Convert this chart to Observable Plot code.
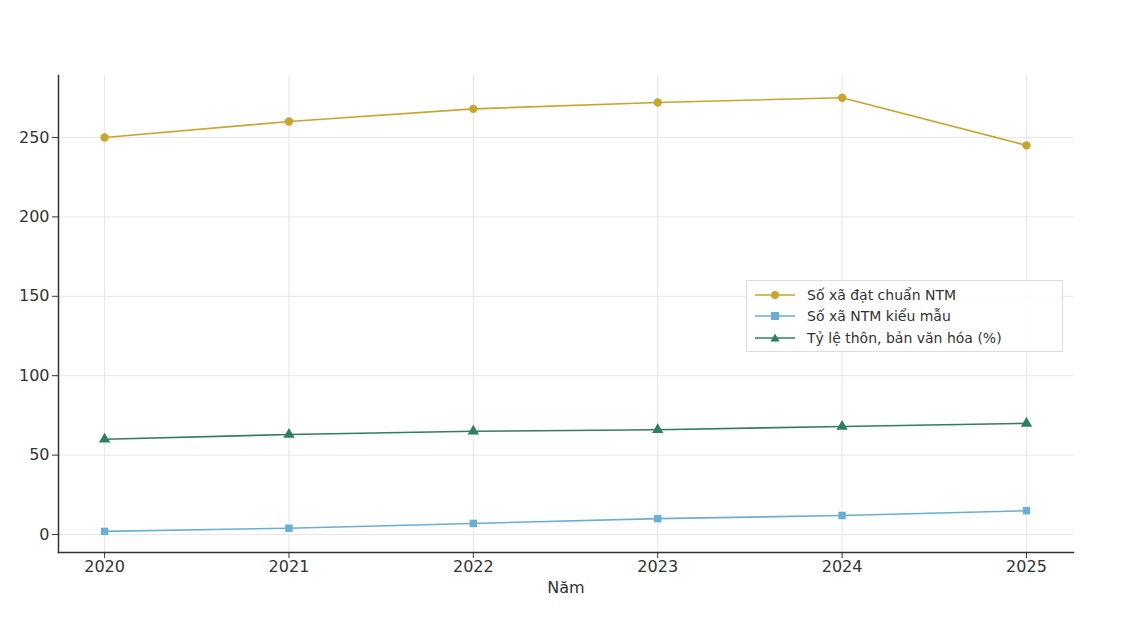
<!DOCTYPE html>
<html><head><meta charset="utf-8">
<script src="https://cdn.jsdelivr.net/npm/d3@7"></script>
<script src="https://cdn.jsdelivr.net/npm/@observablehq/plot@0.6"></script>
<style>
body{margin:0;background:#fff;font-family:"DejaVu Sans",sans-serif;}
#wrap{position:relative;width:1139px;height:622px;}
#legend{position:absolute;left:746px;top:280px;width:317px;height:72px;border:1px solid #ddd;background:rgba(255,255,255,0.9);box-sizing:border-box;padding:3px 8px;font-size:14px;color:#333;}
#legend div{display:flex;align-items:center;height:21.5px;}
#legend svg{margin-right:12px;}
</style></head>
<body><div id="wrap"></div>
<script>
const years = [2020, 2021, 2022, 2023, 2024, 2025];
const seriesNames = ["Số xã đạt chuẩn NTM", "Số xã NTM kiểu mẫu", "Tỷ lệ thôn, bản văn hóa (%)"];
const xaDatChuan = [250, 260, 268, 272, 275, 245];
const xaKieuMau = [2, 4, 7, 10, 12, 15];
const tyLeThon = [60, 63, 65, 66, 68, 70];
const colors = ["#c8a62c", "#6aaed6", "#2f7f5f"];
const symbols = ["circle", "square", "triangle"];
const yTicks = [0, 50, 100, 150, 200, 250];

const valuesList = [xaDatChuan, xaKieuMau, tyLeThon];
const data = [];
seriesNames.forEach((s, i) => years.forEach((y, j) => data.push({year: y, value: valuesList[i][j], series: s})));

const chart = Plot.plot({
  width: 1139, height: 622,
  marginLeft: 58, marginRight: 66, marginTop: 75, marginBottom: 70,
  style: {fontFamily: "DejaVu Sans", fontSize: "16px", color: "#333", background: "#fff"},
  x: {domain: [2019.75, 2025.255]},
  y: {domain: [-11.3, 289]},
  color: {domain: seriesNames, range: colors},
  symbol: {domain: seriesNames, range: symbols},
  marks: [
    Plot.gridX(years, {stroke: "#e6e6e6", strokeOpacity: 1}),
    Plot.gridY(yTicks, {stroke: "#e6e6e6", strokeOpacity: 1}),
    Plot.line(data, {x: "year", y: "value", stroke: "series", z: "series", strokeWidth: 1.6}),
    Plot.dot(data, {x: "year", y: "value", fill: "series", symbol: "series", r: 4.2, stroke: "none"}),
    Plot.axisX({ticks: years, tickFormat: d => String(d), label: "Năm", labelAnchor: "center", labelArrow: "none", labelOffset: 40, tickSize: 6, tickPadding: 2}),
    Plot.axisY({ticks: yTicks, label: null, tickSize: 6}),
    Plot.frame({anchor: "left", stroke: "#333", strokeWidth: 1.5}),
    Plot.frame({anchor: "bottom", stroke: "#333", strokeWidth: 1.5})
  ]
});
const wrap = document.getElementById("wrap");
wrap.appendChild(chart);

const leg = document.createElement("div");
leg.id = "legend";
const shapes = [
  c => `<circle cx="20" cy="6" r="4" fill="${c}"/>`,
  c => `<rect x="16" y="2" width="8" height="8" fill="${c}"/>`,
  c => `<path d="M20,1.5 L24.5,9.5 L15.5,9.5 Z" fill="${c}"/>`
];
seriesNames.forEach((s, i) => {
  const row = document.createElement("div");
  row.innerHTML = `<svg width="40" height="12"><line x1="0" x2="40" y1="6" y2="6" stroke="${colors[i]}" stroke-width="1.6"/>${shapes[i](colors[i])}</svg><span>${s}</span>`;
  leg.appendChild(row);
});
wrap.appendChild(leg);
</script></body></html>
